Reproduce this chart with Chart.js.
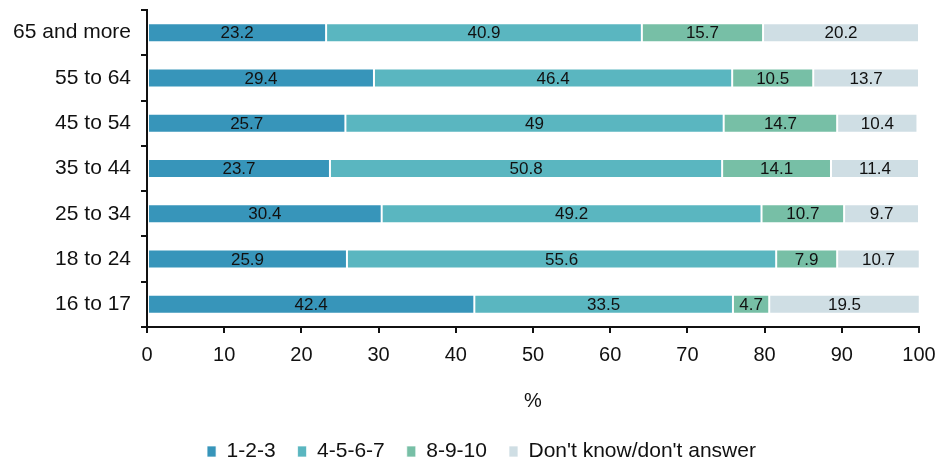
<!DOCTYPE html>
<html>
<head>
<meta charset="utf-8">
<script src="https://cdn.jsdelivr.net/npm/chart.js@4.4.1/dist/chart.umd.min.js"></script>
<style>
  html, body { margin: 0; padding: 0; background: #fff; }
  #wrap { width: 941px; height: 460px; }
</style>
</head>
<body>
<div id="wrap"><canvas id="chart" width="941" height="460"></canvas></div>
<script>
// age groups, top to bottom
var ageGroups = ['65 and more', '55 to 64', '45 to 54', '35 to 44', '25 to 34', '18 to 24', '16 to 17'];

var seriesNames = ['1-2-3', '4-5-6-7', '8-9-10', "Don't know/don't answer"];
var low    = [23.2, 29.4, 25.7, 23.7, 30.4, 25.9, 42.4];
var mid    = [40.9, 46.4, 49.0, 50.8, 49.2, 55.6, 33.5];
var high   = [15.7, 10.5, 14.7, 14.1, 10.7, 7.9, 4.7];
var dunno  = [20.2, 13.7, 10.4, 11.4, 9.7, 10.7, 19.5];

var seriesColors = ['#3795BA', '#5AB6C0', '#77BFA6', '#CFDEE4'];

var FONT = '"Liberation Sans", Arial, sans-serif';

// draws the value in the middle of each bar segment
var barValueLabels = {
    id: 'barValueLabels',
    afterDatasetsDraw: function(chart) {
        var ctx = chart.ctx;
        ctx.save();
        ctx.font = '17px ' + FONT;
        ctx.fillStyle = '#111';
        ctx.textAlign = 'center';
        ctx.textBaseline = 'middle';
        chart.data.datasets.forEach(function(ds, di) {
            var meta = chart.getDatasetMeta(di);
            meta.data.forEach(function(bar, i) {
                var cx = (bar.x + bar.base) / 2;
                ctx.fillText(String(ds.data[i]), cx, bar.y + 1);
            });
        });
        ctx.restore();
    }
};

// nudge the legend a bit to the right, like the original
var legendNudge = {
    id: 'legendNudge',
    afterLayout: function(chart) {
        if (chart.legend) {
            chart.legend.left += 22;
            chart.legend.right += 22;
        }
    }
};

var dataSets = [low, mid, high, dunno].map(function(vals, i) {
    return {
        label: seriesNames[i],
        data: vals,
        backgroundColor: seriesColors[i],
        borderColor: 'rgba(255,255,255,0.7)',
        borderWidth: 1,
        borderSkipped: false,
        categoryPercentage: 1,
        barPercentage: 0.42
    };
});

new Chart(document.getElementById('chart'), {
    type: 'bar',
    data: { labels: ageGroups, datasets: dataSets },
    plugins: [barValueLabels, legendNudge],
    options: {
        indexAxis: 'y',
        responsive: false,
        animation: false,
        layout: { padding: { top: 10, right: 22, left: 0, bottom: -12 } },
        scales: {
            x: {
                stacked: true,
                min: 0,
                max: 100,
                afterFit: function(scale) {
                    scale.paddingLeft = 0;
                    scale.paddingRight = 0;
                },
                ticks: { stepSize: 10, color: '#111', font: { family: FONT, size: 20 }, padding: 10 },
                grid: { drawOnChartArea: false, drawTicks: true, tickLength: 6, color: '#111', lineWidth: 2 },
                border: { color: '#111', width: 2 },
                title: { display: true, text: '%', color: '#111', font: { family: FONT, size: 20 }, padding: { top: 12, bottom: 6 } }
            },
            y: {
                stacked: true,
                afterFit: function(scale) {
                    scale.width = 147;
                    scale.paddingTop = 0;
                    scale.paddingBottom = 0;
                },
                ticks: { color: '#111', font: { family: FONT, size: 21 }, padding: 10 },
                grid: { drawOnChartArea: false, drawTicks: true, tickLength: 6, color: '#111', lineWidth: 2, offset: true },
                border: { color: '#111', width: 2 }
            }
        },
        plugins: {
            legend: {
                position: 'bottom',
                labels: {
                    color: '#111',
                    font: { family: FONT, size: 21 },
                    boxWidth: 9,
                    boxHeight: 11,
                    padding: 22
                }
            },
            tooltip: { enabled: false }
        }
    }
});
</script>
</body>
</html>
